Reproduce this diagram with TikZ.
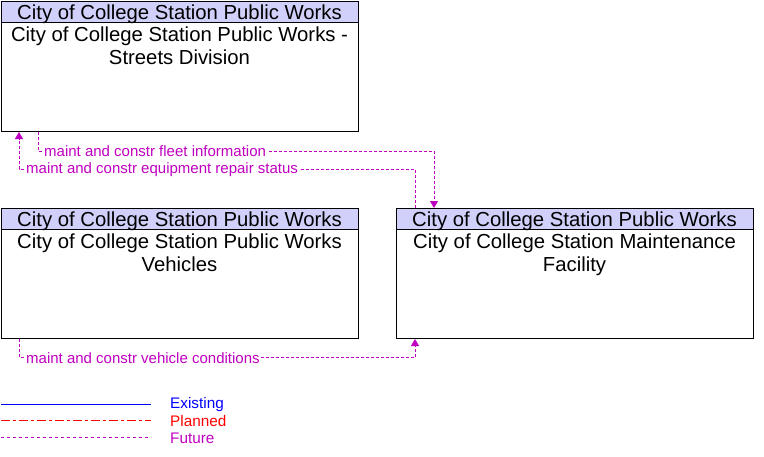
\documentclass[tikz,border=0pt]{standalone}
\usepackage{fontspec}
\setmainfont{Liberation Sans}
\usetikzlibrary{arrows.meta}
\definecolor{hdrc}{RGB}{208,208,250}
\definecolor{fut}{RGB}{192,0,192}
\begin{document}
\begin{tikzpicture}[x=1pt,y=-1pt,
 box/.style={draw=black, line width=1pt, fill=white, anchor=north west, minimum width=357pt, minimum height=130pt, inner sep=0pt},
 hdr/.style={draw=black, line width=1pt, fill=hdrc, anchor=north west, minimum width=357pt, minimum height=21pt, inner sep=0pt},
 htxt/.style={inner sep=0pt, font=\fontsize{20.3}{22}\selectfont},
 body/.style={anchor=north, align=center, inner sep=0pt, font=\fontsize{20.3}{23}\selectfont},
 flow/.style={draw=fut, dash pattern=on 3pt off 2pt, line width=0.9pt},
 tip/.style={-{Triangle[length=7pt,width=8pt]}},
 lbl/.style={text=fut, font=\fontsize{15}{17}\selectfont, fill=white, inner sep=1pt, anchor=west},
 leg/.style={font=\fontsize{15.3}{17}\selectfont, anchor=west, inner sep=0pt}]
\path[use as bounding box] (0,0) rectangle (764,456);
% boxes
\node[box] (sb) at (1,1) {};
\node[hdr] (sh) at (1,1) {};
\node[htxt] (sht) at (179.5,14) {City of College Station Public Works};
\node[body] (st) at (179.5,27) {City of College Station Public Works -\\Streets Division};
\node[box] (vb) at (1,208) {};
\node[hdr] (vh) at (1,208) {};
\node[htxt] (vht) at (179.5,221) {City of College Station Public Works};
\node[body] (vt) at (179.5,234) {City of College Station Public Works\\Vehicles};
\node[box] (mb) at (396,208) {};
\node[hdr] (mh) at (396,208) {};
\node[htxt] (mht) at (574.5,221) {City of College Station Public Works};
\node[body] (mt) at (574.5,234) {City of College Station Maintenance\\Facility};
% flows
\draw[flow,tip] ([xshift=37pt]sb.south west) -- ++(0,19.5) -| ([xshift=38pt]mb.north west);
\node[lbl] (l1) at (43,151) {maint and constr fleet information};
\draw[flow,tip] ([xshift=19pt]mb.north west) -- ++(0,-39) -| ([xshift=18pt]sb.south west);
\node[lbl] (l2) at (25,170) {maint and constr equipment repair status};
\draw[flow,tip] ([xshift=18pt]vb.south west) -- ++(0,18.5) -| ([xshift=19pt]mb.south west);
\node[lbl] (l3) at (25,358) {maint and constr vehicle conditions};
% legend
\coordinate (e1) at (1,404); \coordinate (e2) at (151,404);
\coordinate (p1) at (1,420.5); \coordinate (p2) at (151,420.5);
\coordinate (f1) at (1,437); \coordinate (f2) at (151,437);
\draw[blue, line width=0.9pt] (e1) -- (e2);
\draw[red, line width=0.9pt, dash pattern=on 9pt off 3pt on 3pt off 3pt] (p1) -- (p2);
\draw[fut, line width=0.9pt, dash pattern=on 3pt off 3pt] (f1) -- (f2);
\node[leg, text=blue] (le) at (170,405) {Existing};
\node[leg, text=red] (lp) at (170,421.5) {Planned};
\node[leg, text=fut] (lf) at (170,438) {Future};
\end{tikzpicture}
\end{document}
